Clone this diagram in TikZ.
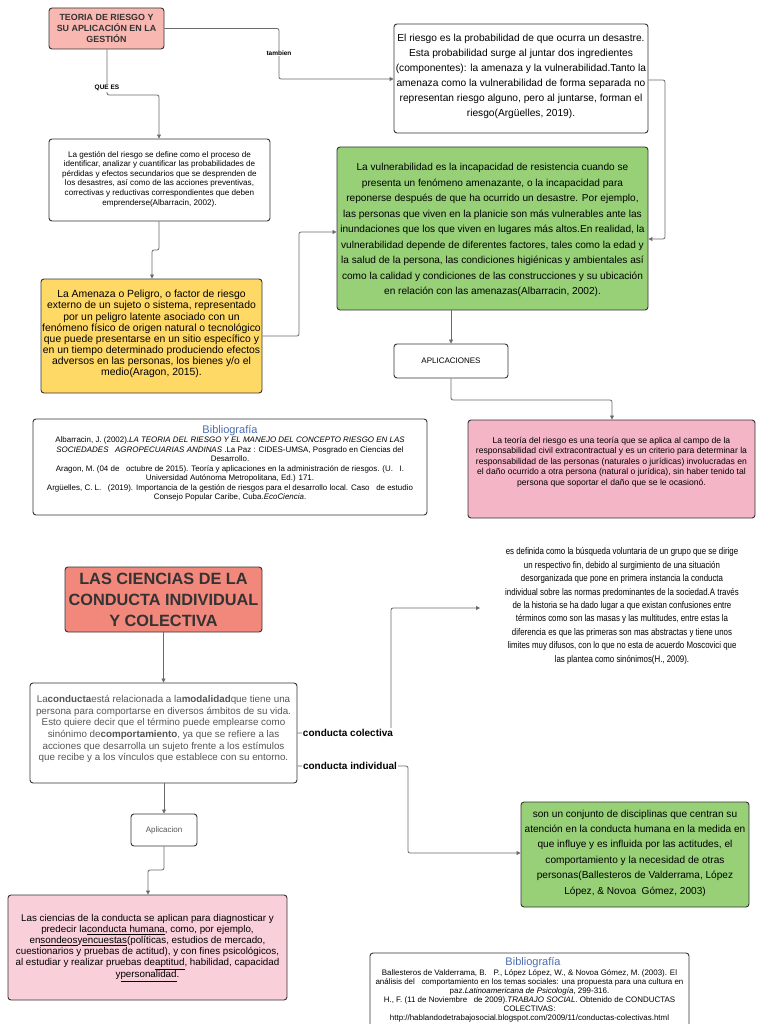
\documentclass[tikz,border=0pt]{standalone}
\usepackage{fontspec}
\setmainfont{Liberation Sans}
\newfontfamily\narrowfont[FakeStretch=0.82]{Liberation Sans}
\usetikzlibrary{arrows.meta}
\definecolor{bd}{HTML}{333333}
\definecolor{ln}{HTML}{6A6A6A}
\definecolor{salmonA}{HTML}{F8B7B0}
\definecolor{salmonB}{HTML}{F2877C}
\definecolor{yel}{HTML}{FFD966}
\definecolor{grn}{HTML}{97D077}
\definecolor{pinkA}{HTML}{F4B6C7}
\definecolor{pinkB}{HTML}{F9CFDA}
\definecolor{bibblue}{HTML}{4A6DB0}
\definecolor{txtgray}{HTML}{555555}
\tikzset{
  bx/.style={draw=bd, rounded corners=3pt, line width=0.9pt, inner sep=0pt, align=center},
  txt/.style={inner sep=0pt, align=center},
  conn/.style={draw=ln, line width=0.8pt, rounded corners=2pt, -{Triangle[width=4pt,length=4pt]}},
  plain/.style={draw=ln, line width=0.8pt, rounded corners=2pt},
  lbl/.style={fill=white, inner sep=1pt, font=\bfseries\fontsize{6.5}{8}\selectfont},
  lblbig/.style={fill=white, inner sep=1pt, font=\bfseries\fontsize{10}{12}\selectfont}
}
\begin{document}
\begin{tikzpicture}[x=1pt,y=-1pt]
\useasboundingbox (0,0) rectangle (768,1024);
% ---------- upper part ----------
\node[bx, fill=salmonA, minimum width=115pt, minimum height=41pt, font=\bfseries\fontsize{8.9}{11}\selectfont, text=bd] (t1) at (106.5,28.5)
 {TEORIA DE RIESGO Y\\SU APLICACIÓN EN LA\\GESTIÓN};

\node[bx, minimum width=254pt, minimum height=109pt] (r1) at (521,78.5) {};
\node[txt, font=\fontsize{10.2}{15}\selectfont] (r1t) at (521,76)
 {El riesgo es la probabilidad de que ocurra un desastre.\\
  Esta probabilidad surge al juntar dos ingredientes\\
  (componentes): la amenaza y la vulnerabilidad.Tanto la\\
  amenaza como la vulnerabilidad de forma separada no\\
  representan riesgo alguno, pero al juntarse, forman el\\
  riesgo(Argüelles, 2019).};

\node[bx, minimum width=221pt, minimum height=82pt] (g1) at (159.5,180) {};
\node[txt, font=\fontsize{8.1}{9.6}\selectfont] (g1t) at (159.5,179)
 {La gestión del riesgo se define como el proceso de\\
  identificar, analizar y cuantificar las probabilidades de\\
  pérdidas y efectos secundarios que se desprenden de\\
  los desastres, así como de las acciones preventivas,\\
  correctivas y reductivas correspondientes que deben\\
  emprenderse(Albarracin, 2002).};

\node[bx, fill=yel, minimum width=221pt, minimum height=114pt] (y1) at (151.5,336) {};
\node[txt, font=\fontsize{10.4}{11.1}\selectfont] (y1t) at (151.5,334)
 {La Amenaza o Peligro, o factor de riesgo\\
  externo de un sujeto o sistema, representado\\
  por un peligro latente asociado con un\\
  fenómeno físico de origen natural o tecnológico\\
  que puede presentarse en un sitio específico y\\
  en un tiempo determinado produciendo efectos\\
  adversos en las personas, los bienes y/o el\\
  medio(Aragon, 2015).};

\node[bx, fill=grn, minimum width=311pt, minimum height=163pt] (gr1) at (492.5,228.5) {};
\node[txt, font=\fontsize{10.1}{15.5}\selectfont] (gr1t) at (492.5,230)
 {La vulnerabilidad es la incapacidad de resistencia cuando se\\
  presenta un fenómeno amenazante, o la incapacidad para\\
  reponerse después de que ha ocurrido un desastre. Por ejemplo,\\
  las personas que viven en la planicie son más vulnerables ante las\\
  inundaciones que los que viven en lugares más altos.En realidad, la\\
  vulnerabilidad depende de diferentes factores, tales como la edad y\\
  la salud de la persona, las condiciones higiénicas y ambientales así\\
  como la calidad y condiciones de las construcciones y su ubicación\\
  en relación con las amenazas(Albarracin, 2002).};

\node[bx, minimum width=114pt, minimum height=34pt, font=\fontsize{8}{10}\selectfont] (ap1) at (451,361) {APLICACIONES};

\node[bx, fill=pinkA, minimum width=287pt, minimum height=98pt] (p1) at (611.5,469) {};
\node[txt, font=\fontsize{8.6}{10.5}\selectfont] (p1t) at (611.5,462)
 {La teoría del riesgo es una teoría que se aplica al campo de la\\
  responsabilidad civil extracontractual y es un criterio para determinar la\\
  responsabilidad de las personas (naturales o jurídicas) involucradas en\\
  el daño ocurrido a otra persona (natural o jurídica), sin haber tenido tal\\
  persona que soportar el daño que se le ocasionó.};

\node[bx, minimum width=394pt, minimum height=96pt] (b1) at (230,467) {};
\node[txt, font=\fontsize{11}{13}\selectfont, text=bibblue] (b1h) at (230,431) {Bibliografía};
\node[txt, font=\fontsize{7.95}{9.5}\selectfont, anchor=north] (b1t) at (230,437)
 {Albarracin, J. (2002).\textit{LA TEORIA DEL RIESGO Y EL MANEJO DEL CONCEPTO RIESGO EN LAS}\\
  \textit{SOCIEDADES\ \ \ AGROPECUARIAS ANDINAS} .La Paz : CIDES-UMSA, Posgrado en Ciencias del\\
  Desarrollo.\\
  Aragon, M. (04 de\ \ \ octubre de 2015). Teoría y aplicaciones en la administración de riesgos. (U.\ \ \ I.\\
  Universidad Autónoma Metropolitana, Ed.) 171.\\
  Argüelles, C. L.\ \ \ (2019). Importancia de la gestión de riesgos para el desarrollo local. Caso\ \ \ de estudio\\
  Consejo Popular Caribe, Cuba.\textit{EcoCiencia}.};

% upper connectors
\coordinate (c1) at (279,28.5);
\coordinate (c2) at (279,79);
\draw[conn] (t1.east) -- (c1) -- (c2) -- (r1.west |- c2);
\node[lbl] (lt) at (279,53) {tambien};

\coordinate (c3) at (107,95);
\coordinate (c4) at (159,95);
\draw[conn] (t1.south -| c3) -- (c3) -- (c4) -- (g1.north -| c4);
\node[lbl] (lq) at (107,88) {QUE ES};

\coordinate (c5) at (665,80);
\coordinate (c6) at (665,239);
\draw[conn] (r1.east |- c5) -- (c5) -- (c6) -- (gr1.east |- c6);

\coordinate (c7) at (159,250);
\coordinate (c8) at (152,250);
\draw[conn] (g1.south -| c7) -- (c7) -- (c8) -- (y1.north -| c8);

\coordinate (c9) at (299,336);
\coordinate (c10) at (299,232);
\draw[conn] (y1.east) -- (c9) -- (c10) -- (gr1.west |- c10);

\draw[conn] (gr1.south -| ap1) -- (ap1.north);

\coordinate (c11) at (451,400);
\coordinate (c12) at (612,400);
\draw[conn] (ap1.south) -- (c11) -- (c12) -- (p1.north -| c12);

% ---------- lower part ----------
\node[bx, fill=salmonB, minimum width=197pt, minimum height=65pt, font=\bfseries\fontsize{16.3}{21}\selectfont, text=bd] (t2) at (163.5,599.5)
 {LAS CIENCIAS DE LA\\CONDUCTA INDIVIDUAL\\Y COLECTIVA};

\node[txt, font=\narrowfont\fontsize{9.6}{13.4}\selectfont] (cc) at (622,606)
 {es definida como la búsqueda voluntaria de un grupo que se dirige\\
  un respectivo fin, debido al surgimiento de una situación\\
  desorganizada que pone en primera instancia la conducta\\
  individual sobre las normas predominantes de la sociedad.A través\\
  de la historia se ha dado lugar a que existan confusiones entre\\
  términos como son las masas y las multitudes, entre estas la\\
  diferencia es que las primeras son mas abstractas y tiene unos\\
  limites muy difusos, con lo que no esta de acuerdo Moscovici que\\
  las plantea como sinónimos(H., 2009).};

\node[bx, minimum width=267pt, minimum height=100pt] (cb) at (163.5,733) {};
\node[txt, font=\fontsize{9.8}{11.7}\selectfont, text=txtgray] (cbt) at (163.5,729)
 {La\textbf{conducta}está relacionada a la\textbf{modalidad}que tiene una\\
  persona para comportarse en diversos ámbitos de su vida.\\
  Esto quiere decir que el término puede emplearse como\\
  sinónimo de\textbf{comportamiento}, ya que se refiere a las\\
  acciones que desarrolla un sujeto frente a los estímulos\\
  que recibe y a los vínculos que establece con su entorno.};

\node[bx, minimum width=66pt, minimum height=32pt, font=\fontsize{8}{10}\selectfont, text=txtgray] (apc) at (164,830) {Aplicacion};

\node[bx, fill=grn, minimum width=228pt, minimum height=105pt] (gr2) at (635,854.5) {};
\node[txt, font=\fontsize{10.1}{15.4}\selectfont] (gr2t) at (635,853)
 {son un conjunto de disciplinas que centran su\\
  atención en la conducta humana en la medida en\\
  que influye y es influida por las actitudes, el\\
  comportamiento y la necesidad de otras\\
  personas(Ballesteros de Valderrama, López\\
  López, \& Novoa\ \ Gómez, 2003)};

\node[bx, fill=pinkB, minimum width=279pt, minimum height=105pt] (p2) at (147.5,947.5) {};
\node[txt, font=\fontsize{9.8}{11}\selectfont] (p2t) at (147.5,948)
 {Las ciencias de la conducta se aplican para diagnosticar y\\
  predecir la\underline{conducta humana}, como, por ejemplo,\\
  en\underline{sondeos}y\underline{encuestas}(políticas, estudios de mercado,\\
  cuestionarios y pruebas de actitud), y con fines psicológicos,\\
  al estudiar y realizar pruebas de\underline{aptitud}, habilidad, capacidad\\
  y\underline{personalidad}.};

\node[bx, minimum width=319pt, minimum height=80pt] (b2) at (529.5,993) {};
\node[txt, font=\fontsize{11}{13}\selectfont, text=bibblue] (b2h) at (533,963) {Bibliografía};
\node[txt, font=\fontsize{7.95}{9}\selectfont, anchor=north] (b2t) at (529.5,969)
 {Ballesteros de Valderrama, B.\ \ \ P., López López, W., \& Novoa Gómez, M. (2003). El\\
  análisis del\ \ \ comportamiento en los temas sociales: una propuesta para una cultura en\\
  paz.\textit{Latinoamericana de Psicología}, 299-316.\\
  H., F. (11 de Noviembre\ \ \ de 2009).\textit{TRABAJO SOCIAL}. Obtenido de CONDUCTAS\\
  COLECTIVAS:\\
  http://hablandodetrabajosocial.blogspot.com/2009/11/conductas-colectivas.html};

% lower connectors
\draw[conn] (t2.south) -- (cb.north);

\coordinate (d1) at (391,733);
\coordinate (d2) at (391,608);
\coordinate (d3) at (480,608);
\draw[conn] (cb.east |- d1) -- (d1) -- (d2) -- (d3);
\node[lblbig] (lcc) at (348,733) {conducta colectiva};

\coordinate (d4) at (408,766);
\coordinate (d5) at (408,853);
\draw[conn] (cb.east |- d4) -- (d4) -- (d5) -- (gr2.west |- d5);
\node[lblbig] (lci) at (350,766) {conducta individual};

\draw[conn] (cb.south -| apc) -- (apc.north);

\coordinate (d6) at (164,870);
\coordinate (d7) at (148,870);
\draw[conn] (apc.south) -- (d6) -- (d7) -- (p2.north -| d7);
\end{tikzpicture}
\end{document}
